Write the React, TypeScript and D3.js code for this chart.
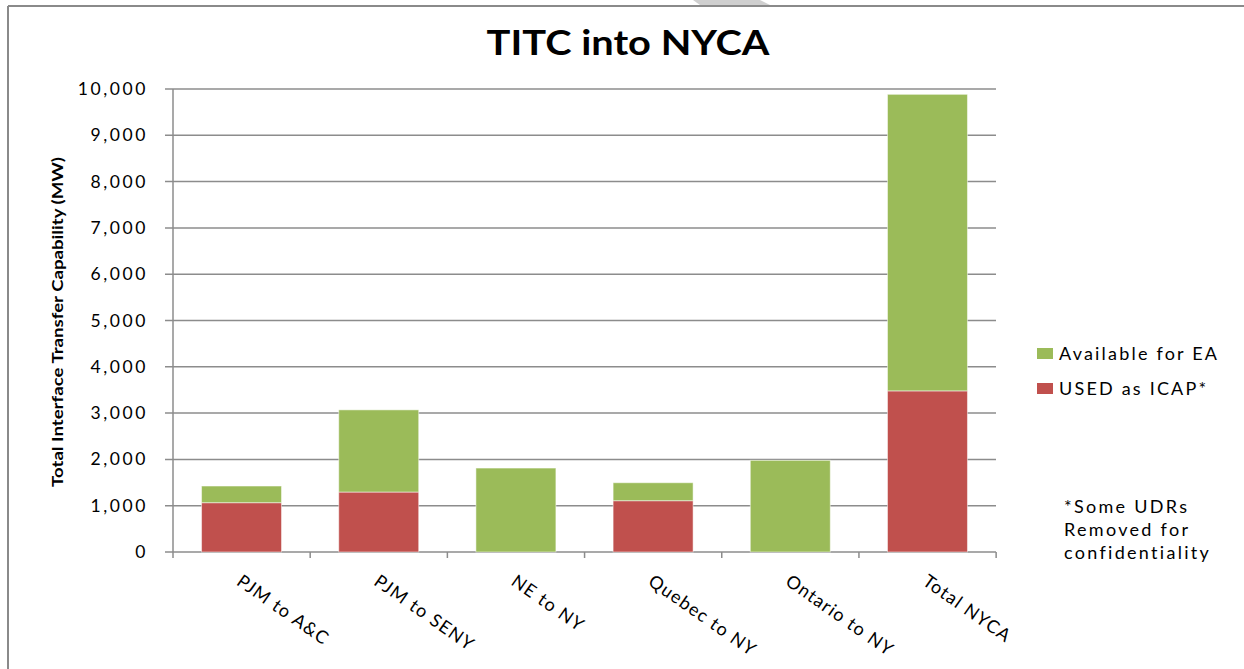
import React from "react";
import * as d3 from "d3";

const categories = ["PJM to A&C", "PJM to SENY", "NE to NY", "Quebec to NY", "Ontario to NY", "Total NYCA"];
const usedAsIcap = [1065, 1295, 0, 1108, 0, 3480];
const availableForEA = [360, 1775, 1813, 388, 1980, 6405];
const yTicks = [0, 1000, 2000, 3000, 4000, 5000, 6000, 7000, 8000, 9000, 10000];
const seriesNames = ["Available for EA", "USED as ICAP*"];
const noteLines = ["*Some UDRs", "Removed for", "confidentiality"];

const W = 1244;
const H = 669;
const FONT = "Lato, 'Open Sans', sans-serif";
const GREEN = "#9BBB59";
const RED = "#C0504D";
const GRID = "#8c8c8c";

export default function App() {
  const left = 173;
  const right = 996;
  const top = 89;
  const bottom = 552;

  const x = d3.scaleBand<string>().domain(categories).range([left, right]).paddingInner(0.417).paddingOuter(0.208);
  const y = d3.scaleLinear().domain([0, 10000]).range([bottom, top]);
  const fmt = d3.format(",");
  const step = x.step();

  const rows = categories.map((c, i) => ({ c, used: usedAsIcap[i], avail: availableForEA[i] }));
  const stack = d3.stack<any>().keys(["used", "avail"])(rows as any);

  return (
    <svg width={W} height={H} style={{ position: "absolute", left: 0, top: 0, background: "#fff" }} fontFamily={FONT}>
      <rect x={0} y={0} width={W} height={H} fill="#fff" />
      {/* outer frame */}
      <line x1={8} y1={6} x2={W} y2={6} stroke="#8a8a8a" strokeWidth={2} />
      <line x1={8} y1={6} x2={8} y2={H} stroke="#8a8a8a" strokeWidth={2} />
      <polygon points="693,0 760,0 770,5 700,5" fill="#cfcfcf" />

      {/* title */}
      <text x={628} y={55} textAnchor="middle" fontSize={34} fontWeight="bold" fill="#000" textLength={283} lengthAdjust="spacingAndGlyphs">
        TITC into NYCA
      </text>

      {/* gridlines */}
      {yTicks.map((t) => (
        <line key={"g" + t} x1={left - 8} x2={right} y1={y(t)} y2={y(t)} stroke={GRID} strokeWidth={1.5} />
      ))}
      {/* y axis */}
      <line x1={left} x2={left} y1={top} y2={bottom} stroke={GRID} strokeWidth={1.5} />
      {yTicks.map((t) => (
        <text key={"yl" + t} x={148} y={y(t) + 6} textAnchor="end" fontSize={17.5} fill="#000" letterSpacing={2.6}>
          {fmt(t)}
        </text>
      ))}
      <text
        transform={`translate(63, 322) rotate(-90)`}
        textAnchor="middle"
        fontSize={16}
        fontWeight="bold"
        fill="#000"
        textLength={330}
        lengthAdjust="spacingAndGlyphs"
      >
        Total Interface Transfer Capability (MW)
      </text>

      {/* x ticks */}
      {d3.range(categories.length + 1).map((i) => (
        <line key={"xt" + i} x1={left + i * step} x2={left + i * step} y1={bottom} y2={bottom + 6} stroke={GRID} strokeWidth={1.5} />
      ))}

      {/* bars */}
      {stack.map((s, si) =>
        s.map((d, i) => {
          const h = y(d[0]) - y(d[1]);
          if (h <= 0) return null;
          return (
            <rect
              key={si + "-" + i}
              x={x(categories[i])!}
              y={y(d[1])}
              width={x.bandwidth()}
              height={h}
              fill={si === 0 ? RED : GREEN}
              stroke="#ffffff"
              strokeOpacity={0.5}
              strokeWidth={1}
            />
          );
        })
      )}

      {/* x labels */}
      {categories.map((c) => (
        <text
          key={"xl" + c}
          transform={`translate(${x(c)! + x.bandwidth() / 2 - 6}, 584) rotate(35)`}
          fontSize={18}
          fill="#000"
          letterSpacing={1.2}
        >
          {c}
        </text>
      ))}

      {/* legend */}
      {seriesNames.map((n, i) => (
        <g key={n} transform={`translate(1037, ${348 + i * 35})`}>
          <rect x={0} y={0} width={16} height={11} fill={i === 0 ? GREEN : RED} />
          <text x={22} y={11.5} fontSize={18} fill="#000" letterSpacing={2.2}>
            {n}
          </text>
        </g>
      ))}

      {/* note */}
      {noteLines.map((l, i) => (
        <text key={l} x={1064} y={513 + i * 23} fontSize={18} fill="#000" letterSpacing={2.3}>
          {l}
        </text>
      ))}
    </svg>
  );
}
